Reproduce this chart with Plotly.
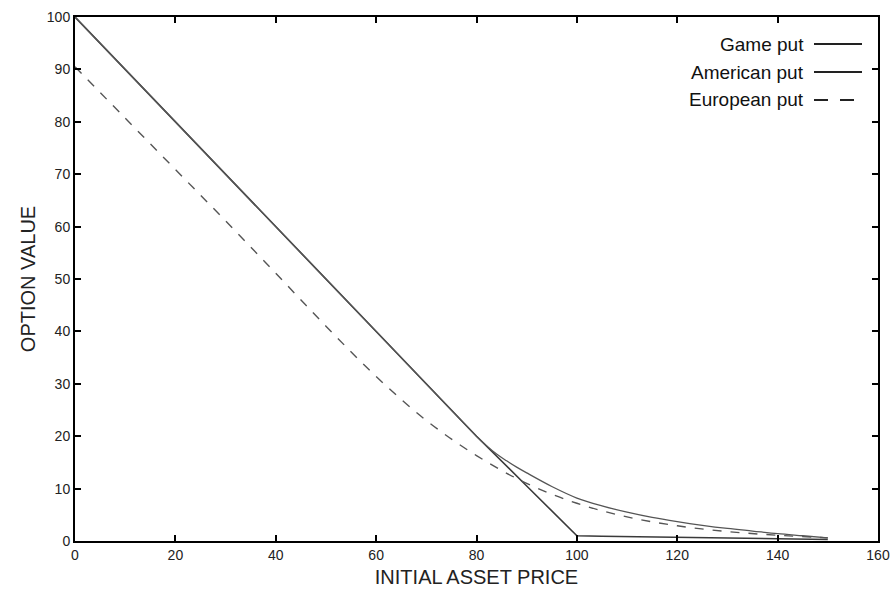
import plotly.graph_objects as go

# Data
game_s = [0, 20, 40, 60, 80, 90, 100, 105, 110, 120, 130, 140, 150]
game_v = [100, 80, 60, 40, 20, 10.5, 1.0, 0.9, 0.85, 0.75, 0.6, 0.45, 0.3]

amer_s = [0, 20, 40, 60, 80, 82, 84, 86, 88, 90, 95, 100, 105, 110, 115, 120, 125, 130, 135, 140, 145, 150]
amer_v = [100, 80, 60, 40, 20, 18.2, 16.6, 15.3, 14.1, 13.0, 10.4, 8.2, 6.7, 5.5, 4.5, 3.7, 3.0, 2.4, 1.9, 1.4, 1.0, 0.6]

euro_s = [0, 10, 20, 30, 40, 50, 60, 70, 80, 90, 100, 110, 120, 130, 140, 150]
euro_v = [90.5, 80.7, 70.9, 61.1, 51.1, 41.0, 31.4, 23.0, 16.3, 11.0, 7.2, 4.6, 2.9, 1.8, 1.1, 0.6]

legend_labels = ["Game put", "American put", "European put"]
x_ticks = [0, 20, 40, 60, 80, 100, 120, 140, 160]
y_ticks = [0, 10, 20, 30, 40, 50, 60, 70, 80, 90, 100]

fig = go.Figure()
fig.add_trace(go.Scatter(x=game_s, y=game_v, mode="lines", name=legend_labels[0],
                         line=dict(color="#3a3a3a", width=1.6)))
fig.add_trace(go.Scatter(x=amer_s, y=amer_v, mode="lines", name=legend_labels[1],
                         line=dict(color="#555555", width=1.3), line_shape="spline"))
fig.add_trace(go.Scatter(x=euro_s, y=euro_v, mode="lines", name=legend_labels[2],
                         line=dict(color="#555555", width=1.4, dash="9px,9px"), line_shape="spline"))

font = "Liberation Sans, Arial, sans-serif"
axis_common = dict(showgrid=False, zeroline=False, showline=True, linecolor="black", linewidth=2,
                   mirror="ticks", ticks="inside", ticklen=6, tickwidth=1.5, tickcolor="black",
                   automargin=False,
                   tickfont=dict(family=font, size=14, color="#222"))

fig.update_layout(
    width=893, height=594,
    margin=dict(l=75, r=15, t=17, b=53),
    paper_bgcolor="white", plot_bgcolor="white",
    showlegend=False,
    xaxis=dict(range=[0, 160], tickvals=x_ticks, ticktext=[str(v) for v in x_ticks],
               title=dict(text="INITIAL ASSET PRICE", font=dict(family=font, size=20, color="#222"), standoff=8),
               **axis_common),
    yaxis=dict(range=[0, 100], tickvals=y_ticks, ticktext=[str(v) for v in y_ticks],
               title=dict(text="OPTION VALUE", font=dict(family=font, size=20, color="#222"), standoff=6),
               **axis_common),
)

# gnuplot-style legend (text right, sample to the right)
leg_y = [44, 72, 100]
dashes = ["solid", "solid", "14px,12px"]
for i, lab in enumerate(legend_labels):
    yp = 1 - (leg_y[i] - 17) / (541 - 17)
    fig.add_annotation(xref="paper", yref="paper", x=(806 - 75) / (878 - 75), y=yp, text=lab,
                       showarrow=False, xanchor="right", yanchor="middle",
                       font=dict(family=font, size=19, color="#111"))
    fig.add_shape(type="line", xref="paper", yref="paper",
                  x0=(814 - 75) / 803, x1=(862 - 75) / 803, y0=yp, y1=yp,
                  line=dict(color="#222", width=1.8, dash=dashes[i]))

fig.write_html("out.html")
